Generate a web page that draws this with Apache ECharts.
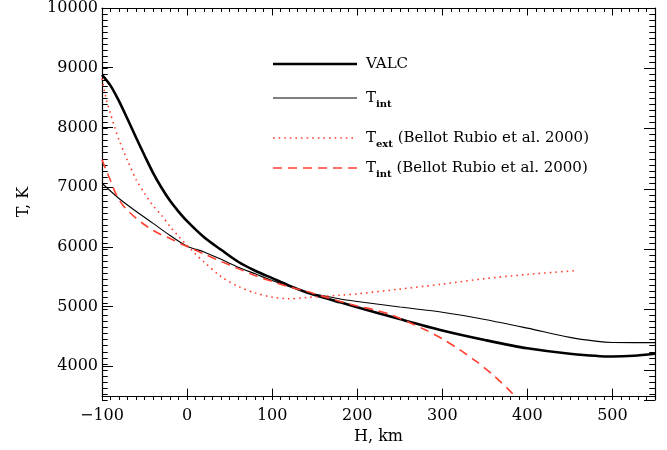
<!DOCTYPE html>
<html>
<head>
<meta charset="utf-8">
<script src="https://cdn.jsdelivr.net/npm/echarts@6/dist/echarts.min.js"></script>
<style>html,body{margin:0;padding:0;background:#fff}#c{width:667px;height:450px}</style>
</head>
<body>
<div id="c"></div>
<script>
// ---- data ----
const valcH = [-100, -90, -80, -70, -60, -50, -40, -30, -20, -10, 0, 20, 40, 60, 80, 100, 120, 140, 160, 180, 200, 250, 300, 350, 400, 450, 500, 525, 550];
const valcT = [8880, 8700, 8440, 8140, 7830, 7530, 7240, 6990, 6770, 6590, 6430, 6160, 5950, 5750, 5600, 5475, 5350, 5240, 5150, 5070, 4990, 4790, 4600, 4440, 4300, 4210, 4163, 4175, 4210];

const tintH = [-100, -80, -60, -40, -20, 0, 20, 40, 60, 80, 100, 120, 140, 160, 180, 200, 250, 300, 350, 400, 450, 480, 500, 525, 550];
const tintT = [7065, 6810, 6595, 6393, 6190, 6010, 5915, 5790, 5660, 5548, 5435, 5336, 5238, 5181, 5126, 5085, 4991, 4905, 4784, 4638, 4483, 4420, 4398, 4396, 4396];

const textBRH = [-100, -97, -94, -90, -85, -80, -70, -60, -50, -40, -30, -20, -10, 0, 10, 20, 40, 60, 80, 100, 120, 140, 160, 180, 200, 250, 300, 350, 400, 456];
const textBRT = [8820, 8600, 8420, 8230, 8000, 7790, 7444, 7130, 6895, 6690, 6528, 6340, 6175, 6026, 5877, 5745, 5502, 5337, 5228, 5158, 5130, 5150, 5172, 5190, 5212, 5292, 5376, 5467, 5538, 5600];

const tintBRH = [-100, -95, -90, -85, -80, -75, -70, -60, -50, -40, -30, -20, -10, 0, 20, 40, 60, 80, 100, 120, 140, 160, 180, 200, 220, 240, 260, 280, 300, 320, 340, 360, 380, 390];
const tintBRT = [7460, 7280, 7110, 6930, 6790, 6690, 6610, 6480, 6370, 6275, 6200, 6140, 6070, 6005, 5880, 5755, 5635, 5518, 5420, 5330, 5255, 5170, 5085, 5010, 4945, 4860, 4740, 4610, 4460, 4280, 4080, 3850, 3580, 3430];

const seriesNames = ['VALC', 'Tint', 'TextBR', 'TintBR'];
const legendLabels = {
  VALC: '{m|VALC}',
  Tint: '{m|T}{s|int}',
  TextBR: '{m|T}{s|ext}{m| (Bellot Rubio et al. 2000)}',
  TintBR: '{m|T}{s|int}{m| (Bellot Rubio et al. 2000)}'
};

// ---- chart ----
const FONT = 'DejaVu Serif';
const RED = '#ff4030';
const zip = (a, b) => a.map((v, i) => [v, b[i]]);

const styles = {
  VALC:   { color: '#000', width: 2.6, type: 'solid' },
  Tint:   { color: '#000', width: 1.1, type: 'solid' },
  TextBR: { color: RED, width: 1.6, type: [1.6, 4] },
  TintBR: { color: RED, width: 1.6, type: [9, 6] }
};
const dataMap = {
  VALC: zip(valcH, valcT),
  Tint: zip(tintH, tintT),
  TextBR: zip(textBRH, textBRT),
  TintBR: zip(tintBRH, tintBRT)
};

function majorX(pos, labels, gi) {
  return {
    type: 'value', gridIndex: gi, position: pos, min: -100, max: 550, interval: 100,
    axisLine: { show: true, onZero: false, lineStyle: { color: '#000', width: 1.2 } },
    axisTick: { show: true, inside: true, length: 7.5, lineStyle: { color: '#000', width: 1 } },
    axisLabel: {
      show: labels, margin: 12, color: '#000', fontFamily: FONT, fontSize: 16,
      showMaxLabel: false,
      formatter: v => (v === 550 ? '' : String(v).replace('-', '\u2212'))
    },
    splitLine: { show: false },
    name: labels ? 'H, km' : '', nameLocation: 'middle', nameGap: 31,
    nameTextStyle: { color: '#000', fontFamily: FONT, fontSize: 16 }
  };
}
function minorX(pos, gi) {
  return {
    type: 'value', gridIndex: gi, position: pos, min: -100, max: 550, interval: 10,
    axisLine: { show: false, onZero: false },
    axisTick: { show: true, inside: true, length: 4, lineStyle: { color: '#000', width: 1 } },
    axisLabel: { show: false }, splitLine: { show: false }
  };
}
function majorY(pos, labels, gi) {
  return {
    type: 'value', gridIndex: gi, position: pos, min: 3500, max: 10000, splitNumber: 6,
    axisLine: { show: true, onZero: false, lineStyle: { color: '#000', width: 1.2 } },
    axisTick: { show: true, inside: true, length: 11, lineStyle: { color: '#000', width: 1 } },
    axisLabel: {
      show: labels, margin: 4, color: '#000', fontFamily: FONT, fontSize: 16,
      showMinLabel: false,
      formatter: v => (v % 1000 === 0 ? String(v) : '')
    },
    splitLine: { show: false },
    name: labels ? 'T, K' : '', nameLocation: 'middle', nameGap: 70, nameRotate: 90,
    nameTextStyle: { color: '#000', fontFamily: FONT, fontSize: 16 }
  };
}
function minorY(pos, gi) {
  return {
    type: 'value', gridIndex: gi, position: pos, min: 3500, max: 10000, interval: 100,
    axisLine: { show: false, onZero: false },
    axisTick: { show: true, inside: true, length: 5.7, lineStyle: { color: '#000', width: 1 } },
    axisLabel: { show: false }, splitLine: { show: false }
  };
}

// legend drawn as graphic (key lines + rich text)
const legendRows = [64, 98, 138, 168];
const legendGraphic = [];
seriesNames.forEach((n, i) => {
  const s = styles[n];
  legendGraphic.push({
    type: 'line', shape: { x1: 273, y1: legendRows[i], x2: 357, y2: legendRows[i] },
    style: { stroke: s.color, lineWidth: s.width, lineDash: s.type === 'solid' ? null : s.type }, silent: true
  });
  legendGraphic.push({
    type: 'text', x: 366, y: legendRows[i], silent: true,
    style: {
      text: legendLabels[n], verticalAlign: 'middle', align: 'left',
      rich: {
        m: { fontFamily: FONT, fontSize: 15, fill: '#000', lineHeight: 22, verticalAlign: 'middle' },
        s: { fontFamily: FONT, fontSize: 10, fill: '#000', lineHeight: 10, verticalAlign: 'bottom', fontWeight: 'bold' }
      }
    }
  });
});

const G = { left: 102, right: 12, top: 8, bottom: 50 };
const option = {
  animation: false,
  backgroundColor: '#fff',
  grid: [G, G, G, G],
  xAxis: [majorX('bottom', true, 0), minorX('bottom', 1), majorX('top', false, 2), minorX('top', 3)],
  yAxis: [majorY('left', true, 0), minorY('left', 1), majorY('right', false, 2), minorY('right', 3)],
  graphic: legendGraphic,
  series: seriesNames.map(n => ({
    name: n, type: 'line', xAxisIndex: 0, yAxisIndex: 0,
    data: dataMap[n], showSymbol: false, symbol: 'none', smooth: 0.3,
    lineStyle: { color: styles[n].color, width: styles[n].width, type: styles[n].type, cap: 'butt' },
    itemStyle: { color: styles[n].color },
    clip: true, silent: true
  }))
};

const chart = echarts.init(document.getElementById('c'), null, { renderer: 'canvas' });
chart.setOption(option);
</script>
</body>
</html>
